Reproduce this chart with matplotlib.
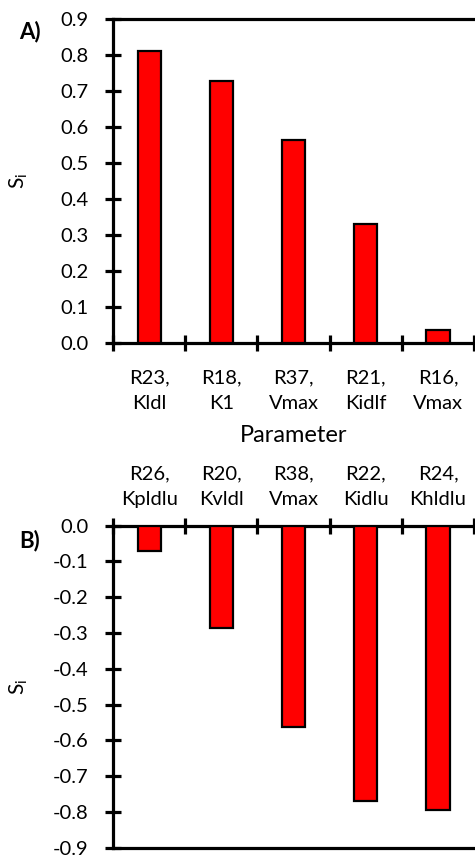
import numpy as np
import matplotlib
matplotlib.use("Agg")
import matplotlib.pyplot as plt
from matplotlib.ticker import FuncFormatter, FixedLocator

plt.rcParams['font.family'] = ['Lato', 'DejaVu Sans']
plt.rcParams['axes.unicode_minus'] = False

# данные: положительные и отрицательные коэффициенты чувствительности
pos_labels = ["R23,\nKldl", "R18,\nK1", "R37,\nVmax", "R21,\nKidlf", "R16,\nVmax"]
pos_values = [0.811, 0.728, 0.564, 0.330, 0.036]
neg_labels = ["R26,\nKpldlu", "R20,\nKvldl", "R38,\nVmax", "R22,\nKidlu", "R24,\nKhldlu"]
neg_values = [-0.070, -0.285, -0.562, -0.770, -0.795]

LW = 2.3
BAR_W = 0.32


def fmt(v, pos):
    s = "%.1f" % v
    return "0.0" if s == "-0.0" else s


fig = plt.figure(figsize=(4.75, 8.59), dpi=100)
ax1 = fig.add_axes([0.238, 0.601, 0.760, 0.377])
ax2 = fig.add_axes([0.238, 0.013, 0.760, 0.375])


def style(ax, labels, top_axis):
    x = np.arange(len(labels))
    ax.set_xlim(-0.5, len(labels) - 0.5)
    ax.xaxis.set_major_locator(FixedLocator(x))
    ax.set_xticklabels(labels, fontsize=14.5, linespacing=1.6)
    ax.xaxis.set_minor_locator(FixedLocator(np.arange(len(labels) + 1) - 0.5))
    ax.tick_params(axis='x', which='major', length=0, pad=19)
    ax.tick_params(axis='x', which='minor', direction='inout', length=11, width=LW)
    ax.tick_params(axis='y', direction='inout', length=11, width=LW, labelsize=14.5, pad=12)
    ax.yaxis.set_major_formatter(FuncFormatter(fmt))
    ax.spines['right'].set_visible(False)
    for s in ['left', 'top', 'bottom']:
        ax.spines[s].set_linewidth(LW)
    if top_axis:
        ax.xaxis.tick_top()
        ax.tick_params(axis='x', which='both', top=True, bottom=False, pad=13)
    ax.set_ylabel("S$_\\mathregular{i}$", fontsize=15)
    ax.yaxis.set_label_coords(-0.23, 0.5)


x = np.arange(len(pos_values))
ax1.bar(x, pos_values, width=BAR_W, color='#ff0000', edgecolor='black', linewidth=1.6, zorder=3)
ax1.set_ylim(0, 0.9)
ax1.set_yticks(np.arange(0, 0.91, 0.1))
style(ax1, pos_labels, False)
ax1.set_xlabel("Parameter", fontsize=17, labelpad=10)

ax2.bar(x, neg_values, width=BAR_W, color='#ff0000', edgecolor='black', linewidth=1.6, zorder=3)
ax2.set_ylim(-0.9, 0)
ax2.set_yticks(np.arange(-0.9, 0.01, 0.1))
style(ax2, neg_labels, True)

fig.text(0.040, 0.963, "A)", fontsize=16, fontweight='bold', ha='left', va='center')
fig.text(0.040, 0.371, "B)", fontsize=16, fontweight='bold', ha='left', va='center')

plt.savefig("out.png", dpi=100)
